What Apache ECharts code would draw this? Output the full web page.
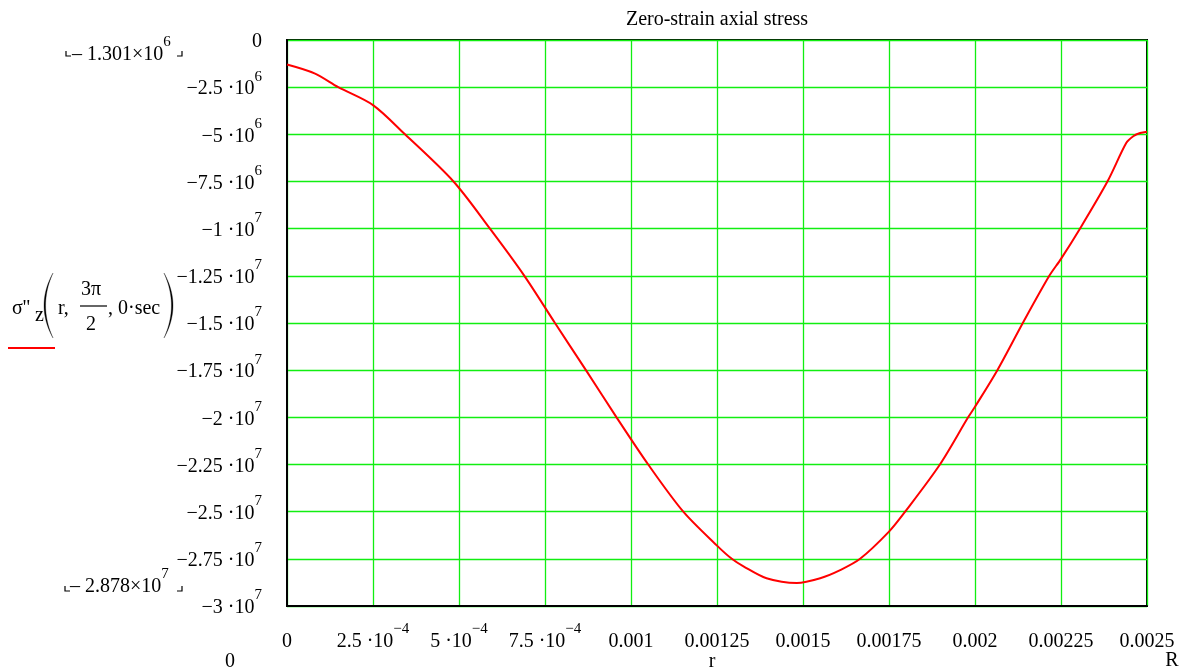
<!DOCTYPE html>
<html>
<head>
<meta charset="utf-8">
<title>Zero-strain axial stress</title>
<script src="https://cdn.jsdelivr.net/npm/echarts@6/dist/echarts.min.js"></script>
<style>
  html, body { margin: 0; padding: 0; background: #ffffff; }
  #chart { width: 1192px; height: 672px; }
</style>
</head>
<body>
<div id="chart"></div>
<script>
// radius r (m) and axial stress sigma''_z(r, 3pi/2, 0 sec) (Pa)
const radius = [
  0, 0.00008, 0.000149, 0.00025, 0.000343, 0.000484, 0.00059, 0.00069,
  0.000779, 0.000869, 0.000958, 0.00105, 0.001152, 0.00125,
  0.001293, 0.001327, 0.001394, 0.001482, 0.00155, 0.001608, 0.001666, 0.00175,
  0.001797, 0.001898, 0.00198, 0.002, 0.002065, 0.002139, 0.002216, 0.00225,
  0.002305, 0.002385, 0.00244, 0.00246, 0.00248, 0.0025
];
const stress = [
  -1.301e6, -1.77e6, -2.5e6, -3.45e6, -5.0e6, -7.5e6, -1.0e7, -1.25e7,
  -1.5e7, -1.75e7, -2.0e7, -2.25e7, -2.5e7, -2.68e7,
  -2.75e7, -2.79e7, -2.853e7, -2.878e7, -2.853e7, -2.81e7, -2.75e7, -2.606e7,
  -2.5e7, -2.25e7, -2.0e7, -1.944e7, -1.75e7, -1.5e7, -1.25e7, -1.16e7,
  -1.0e7, -7.5e6, -5.45e6, -5.1e6, -4.93e6, -4.86e6
];

// tick labels; "^" separates the mantissa from the raised exponent
const xTickLabels = [
  '0', '2.5 \u00b710^\u22124', '5 \u00b710^\u22124', '7.5 \u00b710^\u22124', '0.001',
  '0.00125', '0.0015', '0.00175', '0.002', '0.00225', '0.0025'
];
const yTickLabels = [
  '0', '\u22122.5 \u00b710^6', '\u22125 \u00b710^6', '\u22127.5 \u00b710^6', '\u22121 \u00b710^7',
  '\u22121.25 \u00b710^7', '\u22121.5 \u00b710^7', '\u22121.75 \u00b710^7', '\u22122 \u00b710^7',
  '\u22122.25 \u00b710^7', '\u22122.5 \u00b710^7', '\u22122.75 \u00b710^7', '\u22123 \u00b710^7'
];
const xStep = 0.00025;
const yStep = 2.5e6;
const minLabel = '\u2013 2.878\u00d710^7';
const maxLabel = '\u2013 1.301\u00d710^6';

const FONT = '"Liberation Serif", "Times New Roman", serif';
const GRID = { left: 287, right: 45, top: 40, bottom: 66 };
const GREEN = '#11ee11';

function sup(label) {
  const parts = label.split('^');
  if (parts.length === 1) return '{b|' + parts[0] + '}';
  return '{b|' + parts[0] + '}{s|' + parts[1] + '}';
}
const richLabel = {
  b: { fontFamily: FONT, fontSize: 20, color: '#000', lineHeight: 30, verticalAlign: 'bottom' },
  s: { fontFamily: FONT, fontSize: 15, color: '#000', lineHeight: 15, verticalAlign: 'top' }
};

const chart = echarts.init(document.getElementById('chart'), null, { renderer: 'canvas' });

const txt = (text, x, y, extra) => ({
  type: 'text', x: x, y: y, silent: true,
  style: Object.assign({ text: text, fontFamily: FONT, fontSize: 20, fill: '#000',
    textAlign: 'left', textVerticalAlign: 'middle' }, extra || {})
});
// tall bracket: a thin crescent bounded by two quadratic curves
const paren = (x, top, bottom, bulge, thick) => {
  const mid = (top + bottom) / 2;
  const quad = (cx, t) => [
    (1 - t) * (1 - t) * x + 2 * (1 - t) * t * cx + t * t * x,
    (1 - t) * (1 - t) * top + 2 * (1 - t) * t * mid + t * t * bottom
  ];
  const outerC = x + 2 * bulge;
  const innerC = x + 2 * (bulge - Math.sign(bulge) * thick);
  const pts = [];
  for (let i = 0; i <= 24; i++) pts.push(quad(outerC, i / 24));
  for (let i = 24; i >= 0; i--) pts.push(quad(innerC, i / 24));
  return { type: 'polygon', silent: true, shape: { points: pts },
    style: { fill: '#000', stroke: '#000', lineWidth: 0.3 } };
};
const bracket = (x, y, dir) => ({
  type: 'polyline', silent: true,
  shape: { points: [[x, y - 5], [x, y], [x + 5 * dir, y]] },
  style: { stroke: '#000', lineWidth: 1.2, fill: null }
});

chart.setOption({
  animation: false,
  backgroundColor: '#ffffff',
  grid: Object.assign({ show: true, borderColor: '#000', borderWidth: 2, backgroundColor: 'transparent' }, GRID),
  xAxis: {
    type: 'value', min: 0, max: 0.0025, interval: xStep,
    axisLine: { show: true, onZero: false, lineStyle: { color: '#000', width: 2 } },
    axisTick: { show: false },
    splitLine: { show: true, lineStyle: { color: GREEN, width: 1.3 } },
    axisLabel: {
      margin: 16, showMinLabel: true, showMaxLabel: true,
      formatter: v => sup(xTickLabels[Math.round(v / xStep)] || ''),
      rich: richLabel
    }
  },
  yAxis: {
    type: 'value', min: -3e7, max: 0, interval: yStep,
    axisLine: { show: true, onZero: false, lineStyle: { color: '#000', width: 2 } },
    axisTick: { show: false },
    splitLine: { show: true, lineStyle: { color: GREEN, width: 1.3 } },
    axisLabel: {
      margin: 25, showMinLabel: true, showMaxLabel: true,
      padding: [0, 0, 6, 0],
      formatter: v => sup(yTickLabels[Math.round(-v / yStep)] || ''),
      rich: richLabel
    }
  },
  series: [{
    type: 'line',
    data: radius.map((r, i) => [r, stress[i]]),
    showSymbol: false,
    smooth: 0.3,
    clip: true,
    lineStyle: { color: '#ff0000', width: 2 },
    z: 3
  }],
  graphic: [
    // title
    txt('Zero-strain axial stress', 717, 20, { textAlign: 'center' }),
    // y-range markers
    { type: 'text', x: 72, y: 50, silent: true,
      style: { text: sup(maxLabel), rich: richLabel, textVerticalAlign: 'middle', textAlign: 'left' } },
    bracket(66, 56, 1), bracket(182, 56, -1),
    { type: 'text', x: 70, y: 582, silent: true,
      style: { text: sup(minLabel), rich: richLabel, textVerticalAlign: 'middle', textAlign: 'left' } },
    bracket(65, 591, 1), bracket(182, 591, -1),
    // x-range markers and variable names
    txt('0', 230, 662, { textAlign: 'center' }),
    txt('r', 712, 662, { textAlign: 'center' }),
    txt('R', 1172, 661, { textAlign: 'center' }),
    // y-axis expression  sigma''_z(r, 3pi/2, 0 sec)
    txt('\u03c3\'\'', 12, 309),
    txt('z', 35, 316),
    paren(53, 273, 338, -9, 1.6),
    txt('r,', 58, 309),
    txt('3\u03c0', 91, 290, { textAlign: 'center' }),
    { type: 'line', silent: true, shape: { x1: 80, y1: 306, x2: 107, y2: 306 },
      style: { stroke: '#000', lineWidth: 1.2 } },
    txt('2', 91, 325, { textAlign: 'center' }),
    txt(', 0\u00b7sec', 108, 309),
    paren(164, 273, 338, 9, 1.6),
    { type: 'line', silent: true, shape: { x1: 8, y1: 348, x2: 55, y2: 348 },
      style: { stroke: '#ff0000', lineWidth: 2 } }
  ]
});
</script>
</body>
</html>
